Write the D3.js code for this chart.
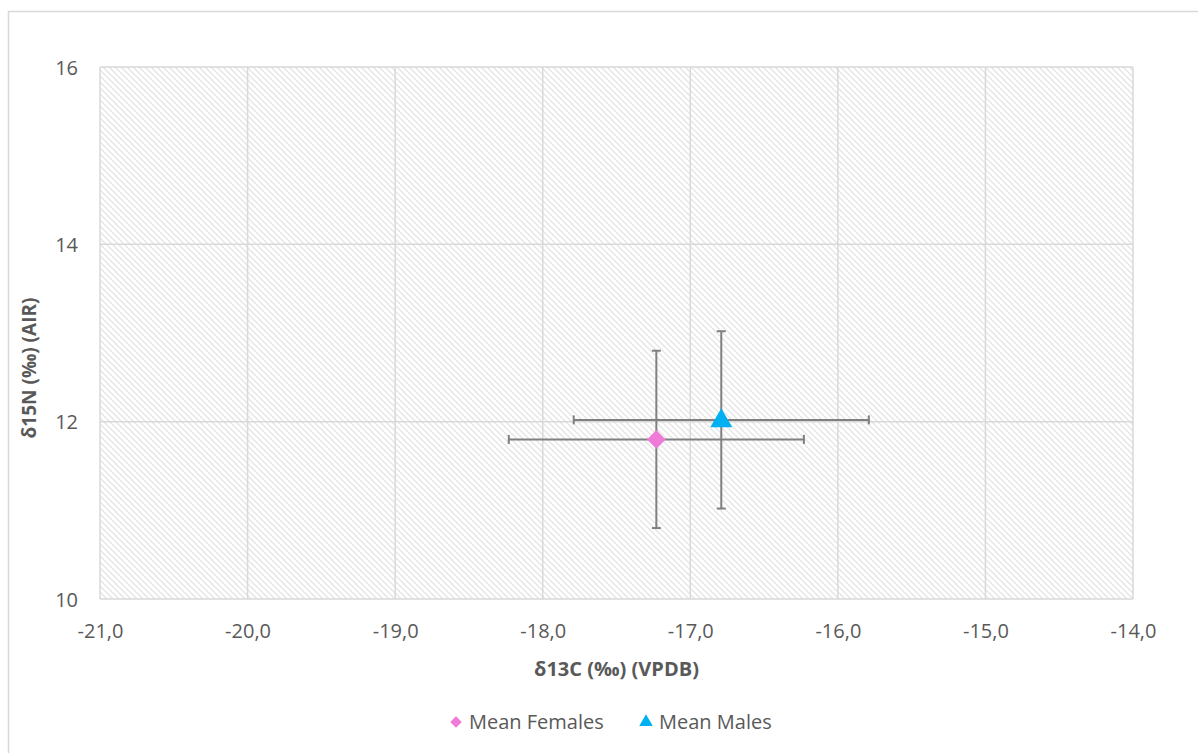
<!DOCTYPE html>
<html>
<head>
<meta charset="utf-8">
<script src="https://cdn.jsdelivr.net/npm/d3@7"></script>
<style>
  body { margin: 0; background: #fff; }
  text { font-family: "Open Sans", "Noto Sans", sans-serif; fill: #595959; }
</style>
</head>
<body>
<div id="chart"></div>
<script>
// Data
const seriesNames = ["Mean Females", "Mean Males"];
const meanC = [-17.23, -16.79];   // δ13C
const meanN = [11.80, 12.02];     // δ15N
const errC = [1.0, 1.0];
const errN = [1.0, 1.0];
const seriesColors = ["#ef7ad8", "#00b0f0"];
const xTicks = [-21, -20, -19, -18, -17, -16, -15, -14];
const yTicks = [10, 12, 14, 16];

const width = 1198, height = 753;
const margin = { left: 100, right: 65, top: 67, bottom: 154 };

const svg = d3.select("#chart").append("svg")
  .attr("width", width)
  .attr("height", height);

// Outer chart border
svg.append("rect")
  .attr("x", 8.5).attr("y", 11.5)
  .attr("width", width + 10).attr("height", height + 10)
  .attr("fill", "#fff")
  .attr("stroke", "#d9d9d9")
  .attr("stroke-width", 1.5);

// hatch pattern for the plot background
const defs = svg.append("defs");
const pat = defs.append("pattern")
  .attr("id", "hatch")
  .attr("patternUnits", "userSpaceOnUse")
  .attr("width", 6).attr("height", 6);
pat.append("path")
  .attr("d", "M-1,-1 L7,7 M-4,2 L2,8 M4,-2 L8,2")
  .attr("stroke", "#e4e4e4")
  .attr("stroke-width", 1.3);

const xScale = d3.scaleLinear()
  .domain([-21, -14])
  .range([margin.left, width - margin.right]);

const yScale = d3.scaleLinear()
  .domain([10, 16])
  .range([height - margin.bottom, margin.top]);

const x0 = xScale.range()[0], x1 = xScale.range()[1];
const y0 = yScale.range()[0], y1 = yScale.range()[1];

svg.append("rect")
  .attr("x", x0).attr("y", y1)
  .attr("width", x1 - x0).attr("height", y0 - y1)
  .attr("fill", "url(#hatch)");

// Gridlines
svg.append("g").selectAll("line")
  .data(xTicks)
  .join("line")
  .attr("x1", d => xScale(d)).attr("x2", d => xScale(d))
  .attr("y1", y1).attr("y2", y0)
  .attr("stroke", "#d9d9d9").attr("stroke-width", 1.5);

svg.append("g").selectAll("line")
  .data(yTicks)
  .join("line")
  .attr("x1", x0).attr("x2", x1)
  .attr("y1", d => yScale(d)).attr("y2", d => yScale(d))
  .attr("stroke", "#d9d9d9").attr("stroke-width", 1.5);

// Axes (labels only)
const fmtX = d => d3.format(".1f")(d).replace(".", ",").replace("−", "-");
const xAxis = svg.append("g")
  .attr("transform", `translate(0, ${y0})`)
  .call(d3.axisBottom(xScale).tickValues(xTicks).tickSize(0).tickFormat(fmtX));
const yAxis = svg.append("g")
  .attr("transform", `translate(${x0 - 22}, 0)`)
  .call(d3.axisLeft(yScale).tickValues(yTicks).tickSize(0).tickFormat(d3.format("d")));
[xAxis, yAxis].forEach(a => {
  a.select(".domain").remove();
  a.attr("font-size", null).attr("font-family", null);
  a.selectAll("text")
    .attr("font-size", "20px")
    .attr("fill", "#595959");
});
xAxis.selectAll("text").attr("y", 39).attr("dy", null);
yAxis.selectAll("text").attr("x", 0).attr("dy", "7");

// Axis titles
svg.append("text")
  .attr("x", (x0 + x1) / 2).attr("y", 676)
  .attr("text-anchor", "middle")
  .attr("font-size", "20px").attr("font-weight", "bold")
  .text("δ13C (‰) (VPDB)");

svg.append("text")
  .attr("transform", `translate(36, 368) rotate(-90)`)
  .attr("text-anchor", "middle")
  .attr("font-size", "19px").attr("font-weight", "bold")
  .text("δ15N (‰) (AIR)");

// Error bars
const eb = svg.append("g").attr("stroke", "#808080").attr("stroke-width", 2);
const cap = 4.5;
meanC.forEach((c, i) => {
  const cx = xScale(c), cy = yScale(meanN[i]);
  const xl = xScale(c - errC[i]), xr = xScale(c + errC[i]);
  const yt = yScale(meanN[i] + errN[i]), yb = yScale(meanN[i] - errN[i]);
  eb.append("line").attr("x1", xl).attr("x2", xr).attr("y1", cy).attr("y2", cy);
  eb.append("line").attr("x1", xl).attr("x2", xl).attr("y1", cy - cap).attr("y2", cy + cap);
  eb.append("line").attr("x1", xr).attr("x2", xr).attr("y1", cy - cap).attr("y2", cy + cap);
  eb.append("line").attr("x1", cx).attr("x2", cx).attr("y1", yt).attr("y2", yb);
  eb.append("line").attr("x1", cx - cap).attr("x2", cx + cap).attr("y1", yt).attr("y2", yt);
  eb.append("line").attr("x1", cx - cap).attr("x2", cx + cap).attr("y1", yb).attr("y2", yb);
});

// Markers
const shapes = [d3.symbolDiamond2, d3.symbolTriangle];
svg.append("g").selectAll("path")
  .data(meanC)
  .join("path")
  .attr("transform", (d, i) => `translate(${xScale(d)}, ${yScale(meanN[i]) + (i === 1 ? 1 : 0)})`)
  .attr("d", (d, i) => d3.symbol().type(shapes[i]).size(i === 0 ? 220 : 210)())
  .attr("fill", (d, i) => seriesColors[i]);

// Legend
const legendX = [456, 646];
const lg = svg.append("g");
seriesNames.forEach((name, i) => {
  lg.append("path")
    .attr("transform", `translate(${legendX[i]}, 722)`)
    .attr("d", d3.symbol().type(shapes[i]).size(i === 0 ? 85 : 80)())
    .attr("fill", seriesColors[i]);
  lg.append("text")
    .attr("x", legendX[i] + 13).attr("y", 729)
    .attr("font-size", "20px")
    .text(name);
});
</script>
</body>
</html>
